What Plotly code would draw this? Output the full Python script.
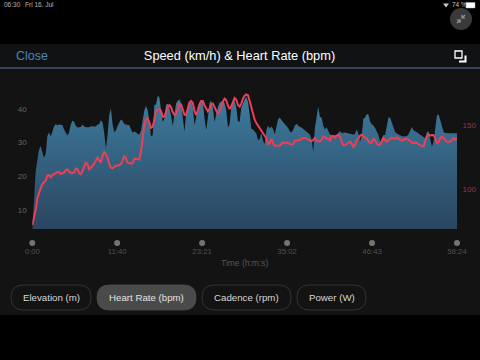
import plotly.graph_objects as go

# Values, one sample about every 13.7 s
speed_kmh = [
4.4,13.9,21.3,24.7,27.8,29,27.3,25.5,26.7,31.9,33.1,31.8,33.2,34.8,35.5,35.2,35.4,35.2,35.2,33.9,32.9,32.1,33,35.4,36.5,36.2,35,34.5,34.6,34.7,35.4,34.8,34.6,34.6,34.6,34.9,34.8,34.8,34.8,35.4,35.5,36.7,36.1,32.9,28.3,32.3,38.2,40.2,35.6,33.1,33.6,35,36.2,36.9,36.5,35.6,35.4,35.4,35.2,34,33,33.3,33.1,32.6,32.4,33.6,36.7,39.6,40.9,39.7,36.3,31.8,32.2,41.2,41.4,44,43.5,
39.6,36.1,37.1,41.4,41.5,40.4,38,35,38.3,41.7,42.5,42.9,41.7,38.2,33.3,38.7,41.2,42.3,42.5,40.5,35.3,37.4,40.7,42,42.2,42.2,37.2,33.8,37.4,41.8,42.5,40.5,36.1,38.6,40.6,41.9,42.3,42.5,41.8,39.7,34.5,35.5,40.5,42.6,42.4,40.5,36.3,36.3,40.4,41.9,42.9,43.6,42.2,38.4,34.2,33.9,33.4,32.7,30.8,31,32.9,30.5,29.6,33.8,35.1,34.2,34.8,34.1,32.5,34.3,36.9,37.5,36.6,36.1,35.6,35.1,34.4,33.4,33,33.8,35.1,35.6,35.1,34.7,34.5,34.1,33.6,33.1,32.7,32.4,31,27.3,34.3,38.4,40.7,37.7,
37.4,35.1,33.9,34.6,33.5,32.4,32.3,32.3,32.3,32.3,32.9,33.5,32.9,33,33,32.9,32.8,32.7,32.5,32.4,32.6,34,32.7,30.3,32.1,37.2,37.4,38.5,38.4,36.4,35.5,35.1,34.4,33.4,32.3,30.2,31.3,32.3,32.3,34.8,37.5,37.4,35.8,34.4,33.2,32.7,32.4,32.2,31.9,31.8,31.8,32,32.5,33.8,34.7,33.7,33.5,33.1,32.7,32.4,32,31.7,31.3,33.2,33.3,31.1,28.8,30.3,35.1,38.2,38.4,36.5,34.3,33.2,32.9,32.8,32.8,32.8,32.8,32.8,32.8,32.8]

heart_rate_bpm = [
71.6,76.8,83.4,92.6,97.6,100.5,103.9,105,106.6,110.8,110.8,109.2,111,111.8,112.6,113.4,113.4,111.8,112.4,112.9,115,115.5,113.7,112.6,112.6,112.9,116,115.8,112.4,111.6,114.2,118.4,120.8,119.7,115.5,116.8,118.2,119.7,122.4,124.7,122.6,120.8,126.3,129.5,127.4,124.7,119.7,116.8,116.3,117.4,118.4,118.4,119,119.5,122.4,126,124.5,120.8,120.5,120,120.3,123.7,123.9,123.4,123.2,129.5,142.1,151,155.3,155.8,152.4,148.2,149.2,155.3,160.8,162.6,163.1,
161.6,157.1,157.1,161.3,164.7,166.3,164.5,160.8,158.4,159.5,163.2,167.1,166.6,162.9,158.7,158.4,163.2,168.2,169.5,167.9,161.6,158.4,161.8,166.8,169.5,169.5,166,162.9,161.3,163.4,166.6,167.4,165,161.6,159.2,161.3,165.3,169,171.3,170,165.8,163.2,165.3,169.2,171.8,170.5,166.3,165,167.4,171.3,173.7,174.7,174,169.5,163.7,158.2,154.7,152.1,150,148.2,145.5,143.4,142.1,140,135.3,136,139.5,136,134.2,134.2,134.2,134.2,135.5,136.8,136,136.8,136.3,135.8,135,135.5,137.9,138.4,138.2,138.4,140,140.3,140.3,139.7,139.2,138.2,137.6,138.7,140.3,138.4,137.4,137.4,
138.7,141.3,141,139.7,139.7,138.2,141.8,141.6,140.5,142.1,142.9,141,137.4,134.7,134.5,135.3,136.6,137.4,135.8,133.2,134.7,138.2,139.7,142.1,142.9,141.6,140.5,140,137.9,136.3,136.8,139.7,138.2,135.8,134.7,134.7,137.4,140.3,138.7,137.4,138.4,139.2,140.5,140,139.5,140.8,139.7,138.7,138.2,138.4,139.7,139.7,138.9,137.9,136.6,136,136.6,136.3,135.3,134.5,133.9,133.7,137.4,141.6,143.2,142.1,142.6,142.4,140,136.3,137.1,140.3,141.3,140.3,138.7,137.4,137.1,137.6,139.2,140.3,138.9,140.1]

total_seconds = 3504
speed_times = [i * total_seconds / (len(speed_kmh) - 1) for i in range(len(speed_kmh))]
hr_times = [i * total_seconds / (len(heart_rate_bpm) - 1) for i in range(len(heart_rate_bpm))]

time_ticks = [0, 700, 1401, 2102, 2803, 3504]
time_labels = ["0:00", "11:40", "23:21", "35:02", "46:43", "58:24"]
speed_ticks = [10, 20, 30, 40]
hr_ticks = [100, 150]
buttons = ["Elevation (m)", "Heart Rate (bpm)", "Cadence (rpm)", "Power (W)"]

W, H = 480, 360
FONT = "Liberation Sans"
px = lambda x: x / W
py = lambda y: 1 - y / H


def pill(x0, y0, x1, y1, fill, line):
    r = (y1 - y0) / 2
    path = (f"M {px(x0 + r)} {py(y0)} L {px(x1 - r)} {py(y0)} "
            f"Q {px(x1)} {py(y0)} {px(x1)} {py(y0 + r)} Q {px(x1)} {py(y1)} {px(x1 - r)} {py(y1)} "
            f"L {px(x0 + r)} {py(y1)} Q {px(x0)} {py(y1)} {px(x0)} {py(y0 + r)} "
            f"Q {px(x0)} {py(y0)} {px(x0 + r)} {py(y0)} Z")
    return dict(type="path", xref="paper", yref="paper", path=path,
                fillcolor=fill, line=dict(color=line, width=1), layer="above")


def rect(x0, y0, x1, y1, fill, layer="below"):
    return dict(type="rect", xref="paper", yref="paper", x0=px(x0), x1=px(x1),
                y0=py(y1), y1=py(y0), fillcolor=fill, line=dict(width=0), layer=layer)


def seg(pts, color, width=1.2):
    d = "M " + " L ".join(f"{px(a)} {py(b)}" for a, b in pts)
    return dict(type="path", xref="paper", yref="paper", path=d,
                line=dict(color=color, width=width), layer="above")


def note(x, y, text, size, color, anchor="center"):
    return dict(xref="paper", yref="paper", x=px(x), y=py(y), text=text, showarrow=False,
                xanchor=anchor, yanchor="middle", font=dict(size=size, color=color, family=FONT))


shapes = [
    rect(0, 44, 480, 315, "#131313"),
    rect(0, 44, 480, 68, "#101214"),
    rect(0, 67.6, 480, 68.6, "#5c7ba6"),
    dict(type="circle", xref="paper", yref="paper", x0=px(450), x1=px(472), y0=py(30), y1=py(8),
         fillcolor="#3a3a3a", line=dict(width=0), layer="above"),
    seg([(457, 23), (460, 20)], "#999999"), seg([(457, 20), (460, 20), (460, 23)], "#999999"),
    seg([(465, 15), (462, 18)], "#999999"), seg([(462, 15), (462, 18), (465, 18)], "#999999"),
    dict(type="rect", xref="paper", yref="paper", x0=px(455), x1=px(462), y0=py(58), y1=py(51),
         line=dict(color="#ffffff", width=1.3), layer="above"),
    seg([(459, 61.5), (465.5, 61.5), (465.5, 55.5)], "#ffffff", 2),
    pill(11, 285, 91, 310, "rgba(0,0,0,0)", "#333333"),
    pill(97, 285, 196, 310, "#4a4a4a", "#4a4a4a"),
    pill(202, 285, 291, 310, "rgba(0,0,0,0)", "#333333"),
    pill(297, 285, 366, 310, "rgba(0,0,0,0)", "#333333"),
    dict(type="rect", xref="paper", yref="paper", x0=px(466), x1=px(475), y0=py(8), y1=py(2.5),
         fillcolor="#ffffff", line=dict(color="#aaaaaa", width=0.5), layer="above"),
    dict(type="path", xref="paper", yref="paper",
         path=f"M {px(443)} {py(3.5)} L {px(449)} {py(3.5)} L {px(446)} {py(7.5)} Z",
         fillcolor="#c8c8c8", line=dict(width=0), layer="above"),
]

annotations = [
    note(14, 56, "Close", 12.5, "#4a86b4", "left"),
    note(1.5, 5, "06:30", 6.5, "#b8b8b8", "left"),
    note(22.5, 5, "Fri 16. Jul", 6.5, "#b8b8b8", "left"),
    note(449.5, 5, "74 %", 6.5, "#c8c8c8", "left"),
    note(245, 263, "Time (h:m:s)", 8.5, "#555555"),
    note(51, 297.5, buttons[0], 9.7, "#d8d8d8"),
    note(146.5, 297.5, buttons[1], 9.7, "#e2e2e2"),
    note(246.5, 297.5, buttons[2], 9.7, "#d8d8d8"),
    note(331.5, 297.5, buttons[3], 9.7, "#d8d8d8"),
]

fig = go.Figure()
fig.add_trace(go.Scatter(
    x=speed_times, y=speed_kmh, mode="lines", line=dict(width=0), fill="tozeroy",
    fillgradient=dict(type="vertical", start=4.24, stop=44,
                      colorscale=[[0, "#2b4560"], [1, "#3d7c9f"]]),
    hoverinfo="skip", showlegend=False))
fig.add_trace(go.Scatter(
    x=hr_times, y=heart_rate_bpm, yaxis="y2", mode="lines",
    line=dict(color="#ee3f58", width=2), hoverinfo="skip", showlegend=False))
fig.add_trace(go.Scatter(
    x=time_ticks, y=[0] * len(time_ticks), yaxis="y3", mode="markers", cliponaxis=False,
    marker=dict(color="#747474", size=6), hoverinfo="skip", showlegend=False))

fig.update_layout(
    width=W, height=H, autosize=False, margin=dict(l=0, r=0, t=0, b=0, pad=0),
    paper_bgcolor="#000000", plot_bgcolor="rgba(0,0,0,0)",
    font=dict(family=FONT), showlegend=False,
    title=dict(text="Speed (km/h) & Heart Rate (bpm)", x=239.5 / W, xanchor="center",
               y=py(56), yanchor="middle", font=dict(size=12.8, color="#ffffff", family=FONT)),
    xaxis=dict(domain=[px(32.3), px(457)], range=[0, total_seconds], tickvals=time_ticks,
               ticktext=time_labels, showgrid=False, zeroline=False, showline=False,
               automargin=False, ticks="outside", ticklen=15, tickcolor="rgba(0,0,0,0)",
               tickfont=dict(size=7.8, color="#505050", family=FONT)),
    yaxis=dict(domain=[py(229), py(85)], range=[4.24, 47.2], tickvals=speed_ticks,
               showgrid=False, zeroline=False, showline=False, automargin=False,
               ticks="outside", ticklen=3, tickcolor="rgba(0,0,0,0)",
               tickfont=dict(size=8, color="#666666", family=FONT)),
    yaxis2=dict(overlaying="y", side="right", range=[68.4, 182.1], tickvals=hr_ticks,
                showgrid=False, zeroline=False, showline=False, automargin=False,
                ticks="outside", ticklen=3, tickcolor="rgba(0,0,0,0)",
                tickfont=dict(size=8, color="#9c3442", family=FONT)),
    yaxis3=dict(domain=[py(250), py(236)], range=[-1, 1], visible=False, fixedrange=True,
                automargin=False),
    shapes=shapes, annotations=annotations,
)

fig.write_html("out.html", config=dict(displayModeBar=False, responsive=False),
               post_script="document.body.style.margin='0';document.body.style.background='#000';document.body.style.overflow='hidden';")
